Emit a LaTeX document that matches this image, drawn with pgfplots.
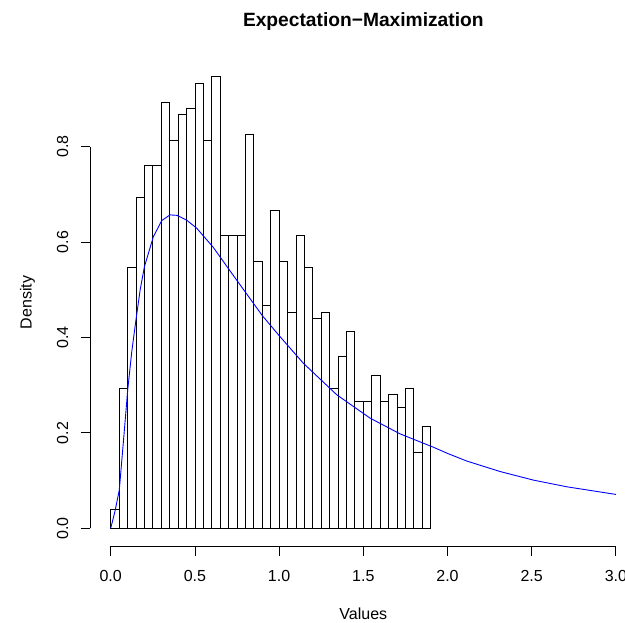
\documentclass[border=0pt]{standalone}
\usepackage{fontspec}
\setmainfont{Liberation Sans}
\usepackage{pgfplots}
\pgfplotsset{compat=1.18}

% histogram densities, bins of width 0.05 (left edges), last row closes the interval
\pgfplotstableread{
x     d
0.00  0.0400
0.05  0.2933
0.10  0.5467
0.15  0.6933
0.20  0.7600
0.25  0.7600
0.30  0.8933
0.35  0.8133
0.40  0.8667
0.45  0.8800
0.50  0.9333
0.55  0.8133
0.60  0.9467
0.65  0.6133
0.70  0.6133
0.75  0.6133
0.80  0.8267
0.85  0.5600
0.90  0.4667
0.95  0.6667
1.00  0.5600
1.05  0.4533
1.10  0.6133
1.15  0.5467
1.20  0.4400
1.25  0.4533
1.30  0.2933
1.35  0.3600
1.40  0.4133
1.45  0.2667
1.50  0.2667
1.55  0.3200
1.60  0.2667
1.65  0.2800
1.70  0.2533
1.75  0.2933
1.80  0.1600
1.85  0.2133
1.90  0.2133
}\histdata

% fitted density curve
\pgfplotstableread{
x     y
0.000 0.000
0.025 0.035
0.051 0.080
0.075 0.180
0.101 0.290
0.125 0.370
0.150 0.437
0.175 0.500
0.200 0.548
0.253 0.611
0.303 0.645
0.352 0.657
0.395 0.656
0.451 0.646
0.511 0.629
0.609 0.589
0.708 0.540
0.808 0.491
0.900 0.446
1.000 0.404
1.144 0.346
1.342 0.280
1.540 0.231
1.718 0.198
1.916 0.170
2.000 0.157
2.114 0.141
2.312 0.119
2.510 0.101
2.708 0.087
3.000 0.071
}\curvedata

\begin{document}
\begin{tikzpicture}
\begin{axis}[
    scale only axis,
    width=545.6pt, height=487.7pt,
    xmin=-0.12, xmax=3.12,
    ymin=-0.0379, ymax=0.9846,
    axis x line*=bottom, axis y line*=left,
    axis line style={draw=none},
    clip=false,
    tick align=outside,
    major tick length=9.6pt,
    tick style={black, line width=0.8pt},
    xtick={0,0.5,1,1.5,2,2.5,3},
    ytick={0,0.2,0.4,0.6,0.8},
    /pgf/number format/assume math mode=true,
    /pgf/number format/.cd, fixed, fixed zerofill, precision=1, /pgfplots/.cd,
    ticklabel style={font=\fontsize{16}{19}\selectfont},
    xticklabel style={anchor=north, inner sep=0pt, yshift=-13.9pt},
    yticklabel style={xshift=-12.3pt, rotate=90, anchor=south, inner sep=0pt},
]
\addplot[ybar interval, draw=black, fill=white, line width=0.8pt] table[x=x, y=d] {\histdata};
\addplot[blue, line width=0.9pt, mark=none] table[x=x, y=y] {\curvedata};

\draw[black, line width=0.8pt] (axis cs:0,-0.0379) -- (axis cs:3,-0.0379);
\draw[black, line width=0.8pt] (axis cs:-0.12,0) -- (axis cs:-0.12,0.8);

\node[font=\bfseries\fontsize{19.2}{23}\selectfont, anchor=base] at (axis cs:1.5,1.053) {Expectation−Maximization};
\node[font=\fontsize{16}{19}\selectfont, anchor=base] at (axis cs:1.5,-0.1922) {Values};
\node[font=\fontsize{16}{19}\selectfont, rotate=90, anchor=base] at (axis cs:-0.469,0.4734) {Density};

\coordinate (bl) at (axis cs:-0.6574,-0.19853);
\coordinate (tr) at (axis cs:3.0541,1.10755);
\end{axis}
\pgfresetboundingbox
\path (bl) rectangle (tr);
\end{tikzpicture}
\end{document}
